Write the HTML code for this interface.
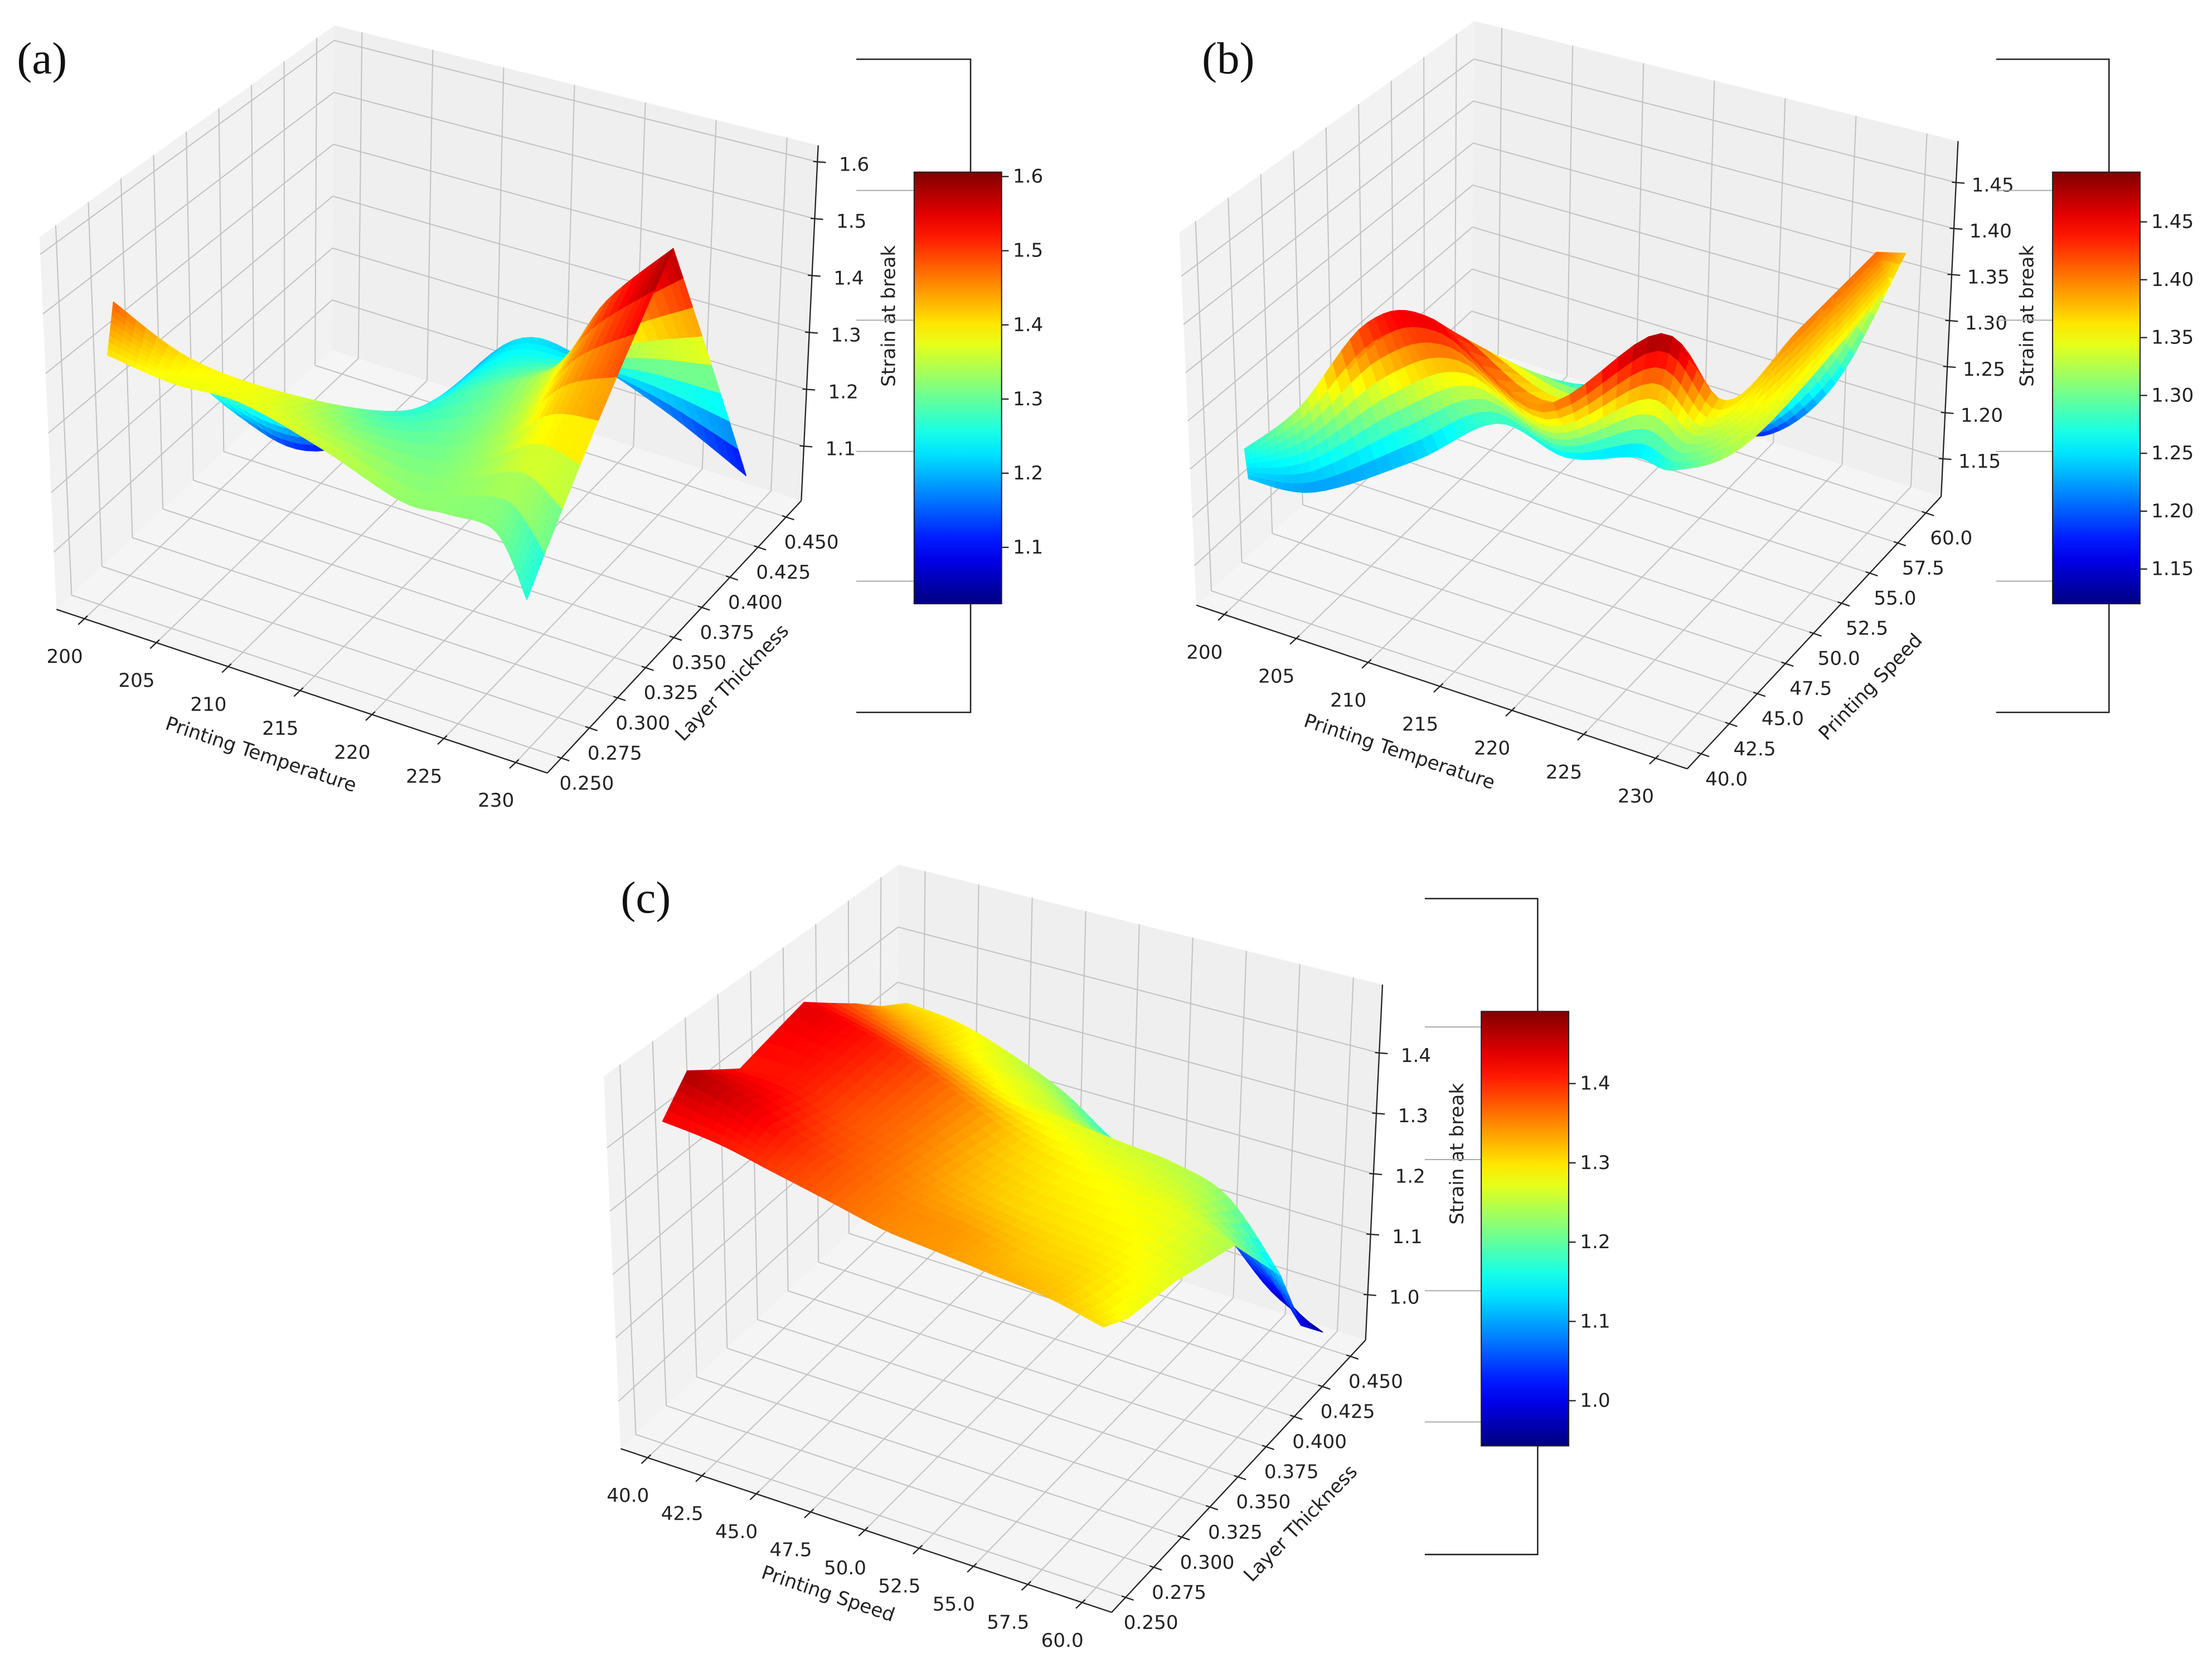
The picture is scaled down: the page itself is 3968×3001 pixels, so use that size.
<!DOCTYPE html>
<html><head><meta charset="utf-8"><title>Strain at break surfaces</title>
<style>html,body{margin:0;padding:0;background:#fff}svg{display:block}</style></head>
<body>
<svg id="fig" xmlns="http://www.w3.org/2000/svg" width="3968" height="3001" viewBox="0 0 1568 1186" preserveAspectRatio="none" font-family="'DejaVu Sans','Liberation Sans',sans-serif">
<rect x="0" y="0" width="1568" height="1186" fill="#ffffff"/>
</svg>
<script>
// ---------- Panel (a): Printing Temperature x Layer Thickness ----------
const aTempTicks=[200,205,210,215,220,225,230];
const aThickTicks=[0.25,0.275,0.3,0.325,0.35,0.375,0.4,0.425,0.45];
const aStrainTicks=[1.1,1.2,1.3,1.4,1.5,1.6];
const aFrontTemp=[200,204.3,208.9,215.1,221.1,224,226.8,230];
const aFrontThick=[0.264,0.266,0.267,0.26,0.253,0.258,0.264,0.25];
const aFrontStrain=[1.40,1.38,1.38,1.36,1.33,1.32,1.30,1.24];
const aMidTemp=[200,204.4,210.4,213.6,216.4,222.4,226.1,230];
const aMidThick=[0.27,0.279,0.287,0.338,0.363,0.363,0.364,0.372];
const aMidStrain=[1.48,1.40,1.37,1.27,1.28,1.36,1.50,1.60];
const aBackTemp=[200,203,206,210,214,218,224,230];
const aBackThick=[0.275,0.33,0.36,0.40,0.43,0.44,0.44,0.44];
const aBackStrain=[1.46,1.20,1.10,1.12,1.22,1.20,1.15,1.08];
// ---------- Panel (b): Printing Temperature x Printing Speed ----------
const bTempTicks=[200,205,210,215,220,225,230];
const bSpeedTicks=[40,42.5,45,47.5,50,52.5,55,57.5,60];
const bStrainTicks=[1.15,1.20,1.25,1.30,1.35,1.40,1.45];
const bFrontTemp=[201,204,208,212.3,216.8,219.9,225,230,230];
const bFrontSpeed=[40,41.8,45.5,47.1,47.5,49.6,47,47.5,58.8];
const bFrontStrain=[1.24,1.22,1.23,1.27,1.25,1.24,1.28,1.33,1.36];
const bMidTemp=[200.8,204.7,209.7,214.1,221,228.5,228.7,230,230];
const bMidSpeed=[40,40.1,40,40.2,40.5,41.7,46.7,51.2,57.5];
const bMidStrain=[1.27,1.33,1.44,1.46,1.40,1.49,1.37,1.40,1.41];
const bBackTemp=[201,204,207,210,214,218,222,227,230];
const bBackSpeed=[40.5,48,55,58,58,58,58,58,60];
const bBackStrain=[1.25,1.22,1.18,1.15,1.20,1.18,1.17,1.25,1.38];
// ---------- Panel (c): Printing Speed x Layer Thickness ----------
const cSpeedTicks=[40,42.5,45,47.5,50,52.5,55,57.5,60];
const cThickTicks=[0.25,0.275,0.3,0.325,0.35,0.375,0.4,0.425,0.45];
const cStrainTicks=[1.0,1.1,1.2,1.3,1.4];
const cSpeed=[40,42.5,45,47.5,50,52.5,55,57.5,60];
const cThick=[0.26,0.28,0.32,0.37,0.41,0.43,0.45];
const cStrainT026=[1.42,1.41,1.39,1.37,1.35,1.34,1.33,1.32,1.30];
const cStrainT028=[1.47,1.44,1.40,1.37,1.35,1.34,1.32,1.31,1.28];
const cStrainT032=[1.41,1.41,1.38,1.36,1.33,1.31,1.30,1.29,1.27];
const cStrainT037=[1.44,1.42,1.39,1.35,1.31,1.29,1.28,1.27,1.24];
const cStrainT041=[1.37,1.34,1.31,1.28,1.27,1.26,1.25,1.22,1.12];
const cStrainT043=[1.33,1.31,1.28,1.26,1.22,1.18,1.15,1.10,1.00];
const cStrainT045=[1.30,1.29,1.26,1.22,1.16,1.13,1.07,0.99,0.95];

const NS='http://www.w3.org/2000/svg';
const svg=document.getElementById('fig');
function mk(tag,attrs,parent){const e=document.createElementNS(NS,tag);for(const k in attrs)e.setAttribute(k,attrs[k]);(parent||svg).appendChild(e);return e;}
function clamp01(v){return Math.max(0,Math.min(1,v));}
function jet(t){t=clamp01(t);const r=clamp01(1.5-Math.abs(4*t-3)),g=clamp01(1.5-Math.abs(4*t-2)),b=clamp01(1.5-Math.abs(4*t-1));
  return 'rgb('+Math.round(r*255)+','+Math.round(g*255)+','+Math.round(b*255)+')';}
const BASE={c000:[40,432],c100:[388,548],c010:[235,248],c110:[568,355],c001:[28,168],c101:[382,268],c011:[237,18],c111:[580,103]};
function lerp2(a,b,t){return [a[0]+(b[0]-a[0])*t,a[1]+(b[1]-a[1])*t];}
function makeAxes(ox,oy,xlim,ylim,zlim){
  const C={};for(const k in BASE)C[k]=[BASE[k][0]+ox,BASE[k][1]+oy];
  function uvw(x,y,z){return [(x-xlim[0])/(xlim[1]-xlim[0]),(y-ylim[0])/(ylim[1]-ylim[0]),(z-zlim[0])/(zlim[1]-zlim[0])];}
  function P(u,v,w){
    const a=lerp2(C.c000,C.c100,u),b=lerp2(C.c010,C.c110,u),c=lerp2(C.c001,C.c101,u),d=lerp2(C.c011,C.c111,u);
    return lerp2(lerp2(a,b,v),lerp2(c,d,v),w);}
  return {C,uvw,P,proj:(x,y,z)=>{const q=uvw(x,y,z);return P(q[0],q[1],q[2]);}};
}
function cr(arr,cf){const n=arr.length;let i=Math.min(Math.floor(cf),n-2);const t=cf-i;
  const p0=arr[Math.max(i-1,0)],p1=arr[i],p2=arr[i+1],p3=arr[Math.min(i+2,n-1)];
  return 0.5*(2*p1+(-p0+p2)*t+(2*p0-5*p1+4*p2-p3)*t*t+(-p0+3*p1-3*p2+p3)*t*t*t);}
function pts(a){return a.map(p=>p[0].toFixed(2)+','+p[1].toFixed(2)).join(' ');}

function drawPanel(cfg){
  const g=mk('g',{});
  
  
  const A=makeAxes(cfg.ox,cfg.oy,cfg.xlim,cfg.ylim,cfg.zlim);const C=A.C;
  const floor=mk('polygon',{points:pts([C.c000,C.c100,C.c110,C.c010]),fill:'#f5f5f5'},g);
  
  
  const lw=mk('polygon',{points:pts([C.c000,C.c010,C.c011,C.c001]),fill:'#f2f2f2'},g);
  
  
  const bw=mk('polygon',{points:pts([C.c010,C.c110,C.c111,C.c011]),fill:'#efefef'},g);
  
  
  const [x0,x1]=cfg.xlim,[y0,y1]=cfg.ylim,[z0,z1]=cfg.zlim;
  const gs={stroke:'#c2c2c2','stroke-width':0.8,fill:'none'};
  function gl(p,q,name){const l=mk('line',Object.assign({x1:p[0],y1:p[1],x2:q[0],y2:q[1]},gs),g);
    
    }
  cfg.xt.forEach(t=>{gl(A.proj(t,y0,z0),A.proj(t,y1,z0),'grid-x-floor');gl(A.proj(t,y1,z0),A.proj(t,y1,z1),'grid-x-wall');});
  cfg.yt.forEach(t=>{gl(A.proj(x0,t,z0),A.proj(x1,t,z0),'grid-y-floor');gl(A.proj(x0,t,z0),A.proj(x0,t,z1),'grid-y-wall');});
  cfg.zt.forEach(t=>{gl(A.proj(x0,y0,t),A.proj(x0,y1,t),'grid-z-left');gl(A.proj(x0,y1,t),A.proj(x1,y1,t),'grid-z-back');});
  function al(p,q,name){const l=mk('line',{x1:p[0],y1:p[1],x2:q[0],y2:q[1],stroke:'#222','stroke-width':0.9},g);
    
    }
  al(C.c000,C.c100,'x-axis-line');al(C.c100,C.c110,'y-axis-line');al(C.c110,C.c111,'z-axis-line');
  function tick(p,d,lab,off,name){
    const l=mk('line',{x1:p[0]-d[0]*3,y1:p[1]-d[1]*3,x2:p[0]+d[0]*6,y2:p[1]+d[1]*6,stroke:'#222','stroke-width':0.9},g);
    
    
    const t=mk('text',{x:p[0]+off[0],y:p[1]+off[1],'font-size':13.5,'text-anchor':'middle','dominant-baseline':'central',fill:'#222'},g);
    t.textContent=lab;
    
    }
  cfg.xt.forEach(t=>tick(A.proj(t,y0,z0),[-0.73,0.69],t.toFixed(cfg.xd),[-14,27],'x'));
  cfg.yt.forEach(t=>tick(A.proj(x1,t,z0),[0.95,0.32],t.toFixed(cfg.yd),[18,18],'y'));
  cfg.zt.forEach(t=>tick(A.proj(x1,y1,t),[1,0.08],t.toFixed(cfg.zd),[26,2],'z'));
  function title(txt,x,y,rot,name){const t=mk('text',{x:x,y:y,'font-size':13.5,'text-anchor':'middle','dominant-baseline':'central',fill:'#222',transform:'rotate('+rot+' '+x+' '+y+')'},g);
    t.textContent=txt;
    
    }
  title(cfg.xTitle,cfg.xTitlePos[0],cfg.xTitlePos[1],18.5,'x-axis-title');
  title(cfg.yTitle,cfg.yTitlePos[0],cfg.yTitlePos[1],-46,'y-axis-title');
  title('Strain at break',cfg.zTitlePos[0],cfg.zTitlePos[1],-90,'z-axis-title');
  const RX=cfg.rowsX,RY=cfg.rowsY,RZ=cfg.rowsZ,nR=RX.length,nC=RX[0].length,sC=cfg.sC,sR=cfg.sR;
  function sp(rf,cf){let r0=Math.min(Math.floor(rf),nR-2);const tr=rf-r0;
    const a=[cr(RX[r0],cf),cr(RY[r0],cf),cr(RZ[r0],cf)],b=[cr(RX[r0+1],cf),cr(RY[r0+1],cf),cr(RZ[r0+1],cf)];
    return [a[0]+(b[0]-a[0])*tr,a[1]+(b[1]-a[1])*tr,a[2]+(b[2]-a[2])*tr];}
  const quads=[];
  for(let r=0;r<nR-1;r++)for(let c=0;c<nC-1;c++)for(let i=0;i<sR;i++)for(let j=0;j<sC;j++){
    const rf0=r+i/sR,rf1=r+(i+1)/sR,cf0=c+j/sC,cf1=c+(j+1)/sC;
    const q=[sp(rf0,cf0),sp(rf0,cf1),sp(rf1,cf1),sp(rf1,cf0)];
    let dep=0,zs=0;const sc=q.map(p=>{const k=A.uvw(p[0],p[1],p[2]);dep+=0.433*k[0]-0.75*k[1]+0.375*k[2];zs+=p[2];return A.P(k[0],k[1],k[2]);});
    quads.push({sc,dep:dep/4,z:zs/4});}
  quads.sort((a,b)=>a.dep-b.dep);
  const sg=mk('g',{},g);
  
  
  quads.forEach(q=>{const col=jet((q.z-cfg.vmin)/(cfg.vmax-cfg.vmin));
    const p=mk('polygon',{points:pts(q.sc),fill:col,stroke:col,'stroke-width':0.6,'stroke-linejoin':'round'},sg);
    
    });
  const cb=cfg.cbar;
  const bk=[[cb.bx0,cb.top],[cb.bx1,cb.top],[cb.bx1,cb.bot],[cb.bx0,cb.bot]];
  const br=mk('polyline',{points:pts(bk),fill:'none',stroke:'#222','stroke-width':1},g);
  
  
  cb.gray.forEach(yy=>{const l=mk('line',{x1:cb.bx0,y1:yy,x2:cb.x,y2:yy,stroke:'#aaaaaa','stroke-width':0.8},g);
    
    });
  const defs=mk('defs',{},g);
  const grad=mk('linearGradient',{id:cfg.name+'-grad',x1:0,y1:1,x2:0,y2:0},defs);
  for(let s=0;s<=20;s++)mk('stop',{offset:s/20,'stop-color':jet(s/20)},grad);
  const rc=mk('rect',{x:cb.x,y:cb.y,width:cb.w,height:cb.h,fill:'url(#'+cfg.name+'-grad)',stroke:'#222','stroke-width':0.8},g);
  
  
  cfg.zt.forEach(t=>{const yy=cb.y+cb.h-(t-cfg.vmin)/(cfg.vmax-cfg.vmin)*cb.h;
    const l=mk('line',{x1:cb.x+cb.w,y1:yy,x2:cb.x+cb.w+5,y2:yy,stroke:'#222','stroke-width':0.9},g);
    
    
    const tx=mk('text',{x:cb.x+cb.w+8,y:yy,'font-size':13.5,'dominant-baseline':'central',fill:'#222'},g);
    tx.textContent=t.toFixed(cfg.zd);
    
    });
  const lt=mk('text',{x:cfg.letter[0],y:cfg.letter[1],'font-size':32,'font-family':"'Liberation Serif',serif",fill:'#111'},g);
  lt.textContent=cfg.letterText;
  
  
}

drawPanel({name:'panel-a',ox:0,oy:0,xlim:[198.05,232.2],ylim:[0.2376,0.4635],zlim:[1.004,1.629],
  xt:aTempTicks,yt:aThickTicks,zt:aStrainTicks,xd:0,yd:3,zd:1,vmin:1.024,vmax:1.606,sC:8,sR:8,
  xTitle:'Printing Temperature',xTitlePos:[185,535],yTitle:'Layer Thickness',yTitlePos:[519,484],zTitlePos:[630,224],
  rowsX:[aFrontTemp,aMidTemp,aBackTemp],rowsY:[aFrontThick,aMidThick,aBackThick],rowsZ:[aFrontStrain,aMidStrain,aBackStrain],
  cbar:{x:648,y:122,w:62,h:306,bx0:607,bx1:688,top:42,bot:505,gray:[135,227,320,412]},letter:[12,52],letterText:'(a)'});
drawPanel({name:'panel-b',ox:808,oy:-3,xlim:[198.05,232.2],ylim:[38.76,61.36],zlim:[1.109,1.495],
  xt:bTempTicks,yt:bSpeedTicks,zt:bStrainTicks,xd:0,yd:1,zd:2,vmin:1.12,vmax:1.493,sC:8,sR:8,
  xTitle:'Printing Temperature',xTitlePos:[992,533],yTitle:'Printing Speed',yTitlePos:[1326,487],zTitlePos:[1437,224],
  rowsX:[bFrontTemp,bMidTemp,bBackTemp],rowsY:[bFrontSpeed,bMidSpeed,bBackSpeed],rowsZ:[bFrontStrain,bMidStrain,bBackStrain],
  cbar:{x:1455,y:122,w:62,h:306,bx0:1415,bx1:1495,top:42,bot:505,gray:[135,227,320,412]},letter:[852,52],letterText:'(b)'});
const cRowsZ=[cStrainT026,cStrainT028,cStrainT032,cStrainT037,cStrainT041,cStrainT043,cStrainT045];
drawPanel({name:'panel-c',ox:400,oy:595,xlim:[38.76,61.36],ylim:[0.2376,0.4635],zlim:[0.925,1.513],
  xt:cSpeedTicks,yt:cThickTicks,zt:cStrainTicks,xd:1,yd:3,zd:1,vmin:0.943,vmax:1.491,sC:6,sR:5,
  xTitle:'Printing Speed',xTitlePos:[587,1130],yTitle:'Layer Thickness',yTitlePos:[922,1080],zTitlePos:[1033,818],
  rowsX:cThick.map(()=>cSpeed),rowsY:cThick.map(t=>cSpeed.map(()=>t)),rowsZ:cRowsZ,
  cbar:{x:1050,y:717,w:62,h:308,bx0:1010,bx1:1090,top:637,bot:1102,gray:[728,822,915,1008]},letter:[440,647],letterText:'(c)'});
</script>
</body></html>
